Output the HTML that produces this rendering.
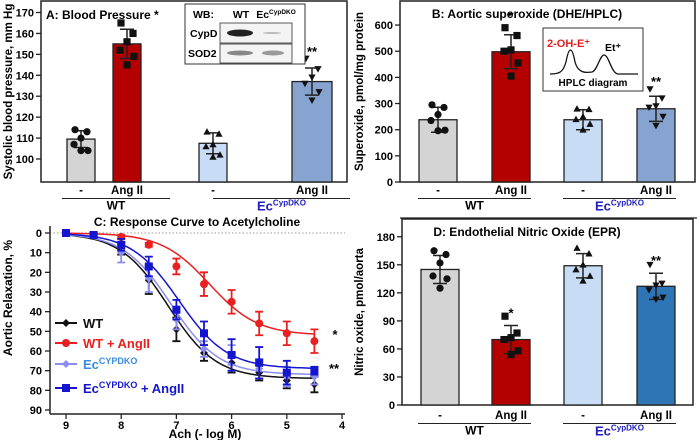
<!DOCTYPE html>
<html><head><meta charset="utf-8"><style>
body{margin:0;background:#fff}
svg{display:block;font-family:"Liberation Sans",Arial,sans-serif;font-weight:bold}
</style></head><body>
<svg id="fig" width="697" height="440" viewBox="0 0 697 440" xmlns="http://www.w3.org/2000/svg"></svg>
<script>
// ---------- Data ----------
const barCats = ['-', 'Ang II', '-', 'Ang II'];
const groupLabels = ['WT', 'Ec'];
const meanA = [109.5, 155, 107.5, 137];
const errA = [4, 7, 5, 6.5];
const ptsA = [[114,113,110,107,104,104],[165,160,156,152,149,145],[113,112,107,106,102,101],[148,143,139,136,132,128]];
const ticksA = [100,110,120,130,140,150,160,170];
const meanB = [238, 498, 238, 280];
const errB = [48, 65, 38, 48];
const ptsB = [[295,285,258,235,198,196],[590,560,505,500,455,405],[280,278,250,240,222,200],[355,320,290,285,250,215]];
const ticksB = [0,100,200,300,400,500,600];
const meanD = [145, 70, 149, 127];
const errD = [15, 15, 13, 14];
const ptsD = [[165,161,152,138,135,125],[95,77,72,70,58,54],[168,162,150,145,138,133],[150,130,128,123,115,113]];
const ticksD = [0,30,60,90,120,150,180];
const doseC = [9, 8.5, 8, 7.5, 7, 6.5, 6, 5.5, 5, 4.5];
const wtC = [0, 1, 8, 24, 49, 61, 66, 71, 75, 77];
const wtAngC = [0, 1, 2, 6, 17, 26, 35, 46, 51, 55];
const ecC = [0, 1, 10, 23, 44, 59, 62, 69, 73, 73];
const ecAngC = [0, 1, 6, 17, 39, 51, 62, 66, 71, 70];
const errWtC = [0, 1, 3, 7, 6, 4, 5, 4, 4, 4];
const errWtAngC = [0, 0, 1, 1, 4, 6, 6, 6, 6, 6];
const errEcC = [0, 1, 5, 7, 5, 4, 5, 5, 5, 4];
const errEcAngC = [0, 1, 3, 5, 5, 6, 8, 8, 6, 2];
const fitTop = [74, 52, 72, 69];
const fitEC50 = [7.15, 6.4, 7.1, 6.95];
const ticksCx = [9, 8, 7, 6, 5, 4];
const ticksCy = [0,10,20,30,40,50,60,70,80,90];

// ---------- helpers ----------
const NS = 'http://www.w3.org/2000/svg';
const svg = document.getElementById('fig');
function mk(tag, attrs, parent) {
  const e = document.createElementNS(NS, tag);
  for (const k in attrs) e.setAttribute(k, attrs[k]);
  (parent || svg).appendChild(e);
  return e;
}
function txt(x, y, s, size, anchor, fill, parent) {
  const t = mk('text', {x: x, y: y, 'font-size': size, 'text-anchor': anchor || 'middle', fill: fill || '#000'}, parent);
  t.textContent = s;
  return t;
}
function ecLabel(x, y, size, fill, parent) {
  const t = mk('text', {x: x, y: y, 'font-size': size, 'text-anchor': 'middle', fill: fill}, parent);
  const a = document.createElementNS(NS, 'tspan'); a.textContent = 'Ec'; t.appendChild(a);
  const b = document.createElementNS(NS, 'tspan'); b.setAttribute('font-size', size * 0.62); b.setAttribute('dy', -size * 0.38); b.textContent = 'CypDKO'; t.appendChild(b);
  return t;
}
function marker(shape, x, y, r, fill, parent) {
  let e;
  if (shape === 'circle') e = mk('circle', {cx: x, cy: y, r: r, fill: fill}, parent);
  else if (shape === 'square') e = mk('rect', {x: x - r, y: y - r, width: 2 * r, height: 2 * r, fill: fill}, parent);
  else if (shape === 'up') e = mk('polygon', {points: `${x},${y - r} ${x + r},${y + r * 0.8} ${x - r},${y + r * 0.8}`, fill: fill}, parent);
  else if (shape === 'down') e = mk('polygon', {points: `${x},${y + r} ${x + r},${y - r * 0.8} ${x - r},${y - r * 0.8}`, fill: fill}, parent);
  else e = mk('polygon', {points: `${x},${y - r} ${x + r},${y} ${x},${y + r} ${x - r},${y}`, fill: fill}, parent);
  return e;
}
const shapes = ['circle', 'square', 'up', 'down'];
const jit = [-6, 6, 0, -7, 7, 0];

function barPanel(cfg, means, errs, pts, ticks, colors) {
  const g = mk('g', {});
  
  
  const ys = v => cfg.y0 - (v - cfg.vmin) / (cfg.vmax - cfg.vmin) * (cfg.y0 - cfg.y1);
  mk('rect', {x: cfg.left, y: cfg.y1, width: cfg.right - cfg.left, height: cfg.y0 - cfg.y1, fill: 'none', stroke: '#222', 'stroke-width': 1.5}, g);
  ticks.forEach(t => {
    const tk = mk('line', {x1: cfg.left - 5, x2: cfg.left, y1: ys(t), y2: ys(t), stroke: '#222', 'stroke-width': 1.3}, g);
    
    
    const lb = txt(cfg.left - 7, ys(t) + 4, String(t), 11, 'end', '#000', g);
    
    
  });
  const yt = txt(0, 0, cfg.ytitle, 11.5, 'middle', '#000', g);
  yt.setAttribute('transform', `translate(${cfg.ytx},${(cfg.y0 + cfg.y1) / 2}) rotate(-90)`);
  
  
  means.forEach((m, i) => {
    const cx = cfg.centers[i], w = cfg.widths[i];
    const b = mk('rect', {x: cx - w / 2, y: ys(m), width: w, height: cfg.y0 - ys(m), fill: colors[i], stroke: '#222', 'stroke-width': 1.3}, g);
    
    
    const eb = mk('path', {d: `M${cx},${ys(m - errs[i])}V${ys(m + errs[i])}M${cx - 7},${ys(m + errs[i])}H${cx + 7}M${cx - 7},${ys(m - errs[i])}H${cx + 7}`, stroke: '#222', 'stroke-width': 1.5, fill: 'none'}, g);
    
    
    pts[i].forEach((p, j) => {
      const mkr = marker(shapes[i], cx + jit[j], ys(p), 3.6, '#111', g);
      
      
    });
    const cl = txt(cx, cfg.labY, barCats[i], 11.5, 'middle', '#000', g);
    
    
  });
  mk('line', {x1: cfg.g1[0], x2: cfg.g1[1], y1: cfg.labY + 4.5, y2: cfg.labY + 4.5, stroke: '#222', 'stroke-width': 1}, g);
  mk('line', {x1: cfg.g2[0], x2: cfg.g2[1], y1: cfg.labY + 4.5, y2: cfg.labY + 4.5, stroke: '#222', 'stroke-width': 1}, g);
  const gl1 = txt((cfg.g1[0] + cfg.g1[1]) / 2, cfg.labY + 15.5, groupLabels[0], 12, 'middle', '#000', g);
  
  
  const gl2 = ecLabel((cfg.g2[0] + cfg.g2[1]) / 2, cfg.labY + 16.5, 13, '#2020c0', g);
  
  
  cfg.stars.forEach((s, i) => {
    if (!s) return;
    const st = txt(cfg.centers[i], ys(means[i] + errs[i]) - 8 + (cfg.starDy ? cfg.starDy[i] : 0), s, 13, 'middle', '#000', g);
    
    
  });
  return {g: g, ys: ys};
}

// Panel A
const A = barPanel({name: 'panel-a', left: 41, right: 347, y0: 182, y1: 1, vmin: 89, vmax: 175.5,
  centers: [81, 127, 213, 312], widths: [28, 28, 28, 40], labY: 194, g1: [62, 170], g2: [213, 350],
  ytitle: 'Systolic blood pressure, mm Hg', ytx: 12, stars: ['', '', '', '**'], starDy: [0,0,0,-4]},
  meanA, errA, ptsA, ticksA, ['#d4d4d4', '#b50000', '#c8ddf5', '#86a4cf']);
txt(46, 19, 'A: Blood Pressure *', 12, 'start', '#000', A.g);
// WB inset
const wb = mk('g', {});


mk('rect', {x: 185, y: 4, width: 120, height: 60, fill: '#fff', stroke: '#333', 'stroke-width': 1}, wb);
txt(193, 18, 'WB:', 10.5, 'start', '#000', wb);
txt(241, 18, 'WT', 10.5, 'middle', '#000', wb);
ecLabel(276, 18, 10.5, '#000', wb);
txt(190, 37, 'CypD', 10.5, 'start', '#000', wb);
txt(188, 57, 'SOD2', 10.5, 'start', '#000', wb);
mk('rect', {x: 220, y: 23, width: 72, height: 20, fill: '#f4f4f4', stroke: '#333', 'stroke-width': 0.8}, wb);
mk('rect', {x: 220, y: 44, width: 72, height: 19, fill: '#f4f4f4', stroke: '#333', 'stroke-width': 0.8}, wb);
mk('ellipse', {cx: 240, cy: 33, rx: 13, ry: 3.5, fill: '#222'}, wb);
mk('ellipse', {cx: 272, cy: 33, rx: 9, ry: 1, fill: '#bbb'}, wb);
mk('ellipse', {cx: 240, cy: 53, rx: 13, ry: 2.5, fill: '#888'}, wb);
mk('ellipse', {cx: 273, cy: 53, rx: 11, ry: 2.5, fill: '#999'}, wb);

// Panel B
const B = barPanel({name: 'panel-b', left: 400, right: 695, y0: 182, y1: 1, vmin: 0, vmax: 692,
  centers: [438, 511, 583, 656], widths: [38, 38, 38, 38], labY: 194, g1: [418, 531], g2: [563, 676],
  ytitle: 'Superoxide, pmol/mg protein', ytx: 363, stars: ['', '*', '', '**'], starDy: [0,-6,0,-2]},
  meanB, errB, ptsB, ticksB, ['#d4d4d4', '#b50000', '#c8ddf5', '#86a4cf']);
txt(527, 18, 'B: Aortic superoxide (DHE/HPLC)', 12, 'middle', '#000', B.g);
mk('line', {x1: 400, x2: 697, y1: 218, y2: 218, stroke: '#222', 'stroke-width': 1.2});
const hp = mk('g', {});


mk('rect', {x: 543, y: 28, width: 100, height: 63, fill: '#fff', stroke: '#333', 'stroke-width': 1}, hp);
txt(547, 47, '2-OH-E\u207A', 11, 'start', '#e02020', hp);
txt(605, 51, 'Et\u207A', 10.5, 'start', '#000', hp);
mk('path', {d: 'M550,74 C560,74 563,72 566,62 C569,46 572,46 575,62 C578,73 585,73 592,72 C597,71 600,55 604,55 C609,55 611,73 618,74 L638,74', stroke: '#111', 'stroke-width': 1.3, fill: 'none'}, hp);
txt(593, 86, 'HPLC diagram', 10, 'middle', '#000', hp);

// Panel D
const D = barPanel({name: 'panel-d', left: 402, right: 693, y0: 405, y1: 219, vmin: 0, vmax: 199,
  centers: [440, 511, 583, 656], widths: [38, 38, 38, 38], labY: 419, g1: [418, 531], g2: [563, 676],
  ytitle: 'Nitric oxide, pmol/aorta', ytx: 363, stars: ['', '*', '', '**'], starDy: [0,0,0,0]},
  meanD, errD, ptsD, ticksD, ['#d4d4d4', '#b50000', '#c8ddf5', '#2e75b6']);
txt(527, 236, 'D: Endothelial Nitric Oxide (EPR)', 12, 'middle', '#000', D.g);

// Panel C
const C = mk('g', {});


const cx0 = 66, cx1 = 342, cy0 = 233, cy1 = 410;
const xs = v => cx0 + (9 - v) / 5 * (cx1 - cx0);
const ysC = v => cy0 + v / 90 * (cy1 - cy0);
mk('line', {x1: 50, x2: 50, y1: 226, y2: 414, stroke: '#222', 'stroke-width': 1.5}, C);
mk('line', {x1: 50, x2: 345, y1: 414, y2: 414, stroke: '#222', 'stroke-width': 1.5}, C);
mk('line', {x1: 50, x2: 345, y1: ysC(0), y2: ysC(0), stroke: '#777', 'stroke-width': 0.8, 'stroke-dasharray': '1.5,2'}, C);
ticksCy.forEach(t => {
  mk('line', {x1: 45, x2: 50, y1: ysC(t), y2: ysC(t), stroke: '#222', 'stroke-width': 1.3}, C);
  const l = txt(42, ysC(t) + 4, String(t), 11, 'end', '#000', C);
  
  
});
ticksCx.forEach(t => {
  mk('line', {x1: xs(t), x2: xs(t), y1: 414, y2: 419, stroke: '#222', 'stroke-width': 1.3}, C);
  const l = txt(xs(t), 429, String(t), 11, 'middle', '#000', C);
  
  
});
const xtC = txt(205, 438, 'Ach (- log M)', 12, 'middle', '#000', C);


const ytC = txt(0, 0, 'Aortic Relaxation, %', 12, 'middle', '#000', C);
ytC.setAttribute('transform', 'translate(12,298) rotate(-90)');


const ttC = txt(197, 226, 'C: Response Curve to Acetylcholine', 12, 'middle', '#000', C);



const seriesC = [wtC, wtAngC, ecC, ecAngC];
const errsC = [errWtC, errWtAngC, errEcC, errEcAngC];
const colC = ['#111', '#e82020', '#8a8cf0', '#1515d0'];
const mkC = ['diamond', 'circle', 'diamond', 'square'];
const nameC = ['wt', 'wt-angii', 'ec-cypdko', 'ec-cypdko-angii'];
seriesC.forEach((s, k) => {
  let d = '';
  for (let x = 9; x >= 4.5 - 1e-9; x -= 0.05) {
    const y = fitTop[k] / (1 + Math.pow(10, (x - fitEC50[k])));
    d += (d ? 'L' : 'M') + xs(x).toFixed(1) + ',' + ysC(y).toFixed(1);
  }
  const line = mk('path', {d: d, stroke: colC[k], 'stroke-width': 1.5, fill: 'none'}, C);
  
  
  s.forEach((v, i) => {
    const x = xs(doseC[i]), e = errsC[k][i];
    const eb = mk('path', {d: `M${x},${ysC(v - e)}V${ysC(v + e)}M${x - 4},${ysC(v - e)}H${x + 4}M${x - 4},${ysC(v + e)}H${x + 4}`, stroke: colC[k], 'stroke-width': 1.8, fill: 'none'}, C);
    
    
    const m = marker(mkC[k], x, ysC(v), 4, colC[k], C);
    
    
  });
});
// legend
const lg = mk('g', {});


const legY = [323, 343, 364, 388];
const legT = ['WT', 'WT + AngII', 'Ec', 'Ec'];
legY.forEach((y, k) => {
  mk('line', {x1: 55, x2: 77, y1: y, y2: y, stroke: colC[k], 'stroke-width': 2}, lg);
  marker(mkC[k], 66, y, 4, colC[k], lg);
  let t;
  if (k < 2) t = txt(83, y + 5, legT[k], 13, 'start', colC[k], lg);
  else {
    t = mk('text', {x: 83, y: y + 5, 'font-size': 13, fill: k === 2 ? '#3a8be0' : '#1515d0'}, lg);
    const a = document.createElementNS(NS, 'tspan'); a.textContent = 'Ec'; t.appendChild(a);
    const b = document.createElementNS(NS, 'tspan'); b.setAttribute('font-size', 9); b.setAttribute('dy', -5); b.textContent = 'CYPDKO'; t.appendChild(b);
    if (k === 3) { const c = document.createElementNS(NS, 'tspan'); c.setAttribute('dy', 5); c.textContent = ' + AngII'; t.appendChild(c); }
  }
  
  
});
const s1 = txt(335, 339, '*', 13, 'middle', '#000', C);


const s2 = txt(334, 373, '**', 13, 'middle', '#000', C);


</script>
</body></html>
